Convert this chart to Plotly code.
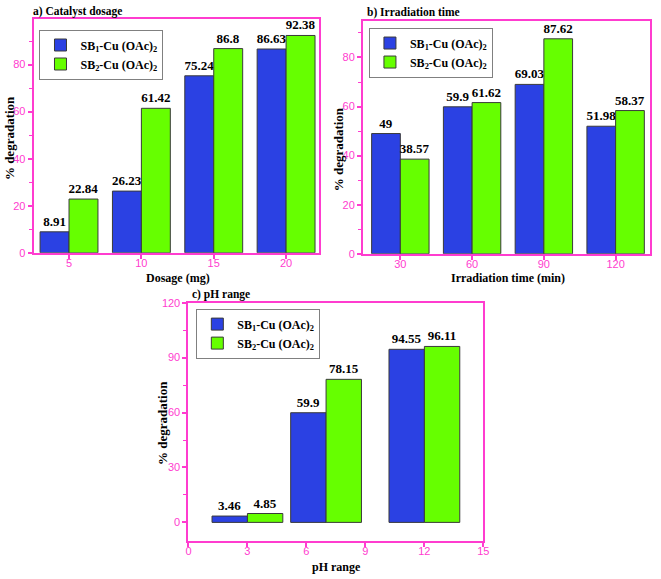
import plotly.graph_objects as go

# ---- data ----
dosage = [5, 10, 15, 20]
dosage_sb1 = [8.91, 26.23, 75.24, 86.63]
dosage_sb2 = [22.84, 61.42, 86.8, 92.38]

irr_time = [30, 60, 90, 120]
irr_sb1 = [49, 59.9, 69.03, 51.98]
irr_sb2 = [38.57, 61.62, 87.62, 58.37]

ph = [3, 7, 12]
ph_sb1 = [3.46, 59.9, 94.55]
ph_sb2 = [4.85, 78.15, 96.11]

name1 = "SB<sub>1</sub>-Cu (OAc)<sub>2</sub>"
name2 = "SB<sub>2</sub>-Cu (OAc)<sub>2</sub>"

BLUE = "#2b41e3"
GREEN = "#66ff00"
PINK = "#ff3ccf"
W, H = 661, 579
SERIF = "Liberation Serif"
SANS = "Liberation Sans"

fig = go.Figure()

def add_pair(x, y1, y2, xa, ya, leg):
    for y, name, col in [(y1, name1, BLUE), (y2, name2, GREEN)]:
        fig.add_trace(go.Bar(
            x=x, y=y, name=name, xaxis=xa, yaxis=ya, legend=leg,
            marker=dict(color=col, line=dict(color="#3a3a3a", width=1)),
            text=[f"{v:g}" for v in y], textposition="outside",
            textfont=dict(family=SERIF, size=13, color="black", weight="bold"),
            constraintext="none", cliponaxis=False,
        ))

add_pair(dosage, dosage_sb1, dosage_sb2, "x", "y", "legend")
add_pair(irr_time, irr_sb1, irr_sb2, "x2", "y2", "legend2")
add_pair(ph, ph_sb1, ph_sb2, "x3", "y3", "legend3")

def px_dom(a, b, total):
    return [a / total, b / total]

def ydom(top, bottom):
    return [1 - bottom / H, 1 - top / H]

axis_common = dict(
    showline=True, mirror=True, linecolor=PINK, linewidth=2,
    ticks="outside", tickcolor=PINK, tickwidth=1.5, ticklen=4,
    tickfont=dict(family=SANS, size=11, color=PINK),
    showgrid=False, zeroline=False,
)
xcommon = dict(axis_common, ticklabelstandoff=-5)

minor_y = dict(ticks="outside", ticklen=3, tickcolor=PINK, tickwidth=1.2)

fig.update_layout(
    width=W, height=H, margin=dict(l=0, r=0, t=0, b=0),
    paper_bgcolor="white", plot_bgcolor="white",
    barmode="group",
    bargap=0.2, bargroupgap=0,
    xaxis=dict(domain=px_dom(31, 320, W), anchor="y", range=[2.55, 22.25],
               tickvals=dosage, **xcommon),
    yaxis=dict(domain=ydom(13, 252), anchor="x", range=[0, 99.5],
               tickvals=[0, 20, 40, 60, 80],
               minor=dict(tickvals=[10, 30, 50, 70, 90], **minor_y), **axis_common),
    xaxis2=dict(domain=px_dom(365, 656, W), anchor="y2", range=[14.4, 134.4],
                tickvals=irr_time, **xcommon),
    yaxis2=dict(domain=ydom(15, 253), anchor="x2", range=[0, 95],
                tickvals=[0, 20, 40, 60, 80],
                minor=dict(tickvals=[10, 30, 50, 70, 90], **minor_y), **axis_common),
    xaxis3=dict(domain=px_dom(188, 487, W), anchor="y3", range=[0, 15],
                tickvals=[0, 3, 6, 9, 12, 15], **xcommon),
    yaxis3=dict(domain=ydom(303, 546), anchor="x3", range=[-10, 120],
                tickvals=[0, 30, 60, 90, 120],
                minor=dict(tickvals=[15, 45, 75, 105], **minor_y), **axis_common),
)

# panel c: bars 1.8 units wide, groups centred on the pH value
fig.update_traces(selector=dict(xaxis="x3"), width=1.8)
fig.data[4].update(offset=-1.8)
fig.data[5].update(offset=0)

leg_common = dict(
    bordercolor="#808080", borderwidth=1, bgcolor="white",
    font=dict(family=SERIF, size=12, color="black", weight="bold"),
    xanchor="left", yanchor="top", itemwidth=30, tracegroupgap=0,
    traceorder="normal",
)
fig.update_layout(
    legend=dict(x=37 / W, y=1 - 24 / H, **leg_common),
    legend2=dict(x=371 / W, y=1 - 22 / H, **leg_common),
    legend3=dict(x=196 / W, y=1 - 309 / H, **leg_common),
)

def ann(text, x, y, size=11, angle=0, xanchor="center"):
    fig.add_annotation(
        text=text, x=x / W, y=1 - y / H, xref="paper", yref="paper",
        showarrow=False, textangle=angle, xanchor=xanchor, yanchor="middle",
        font=dict(family=SERIF, size=size, color="black", weight="bold"),
    )

ann("a) Catalyst dosage", 28, 6, size=11.5, xanchor="left")
ann("b) Irradiation time", 367, 7, size=11.5, xanchor="left")
ann("c) pH range", 190, 295, size=11.5, xanchor="left")

ann("% degradation", 6, 135, size=13, angle=-90)
ann("Dosage (mg)", 177, 278, size=12)
ann("% degradation", 341, 146, size=13, angle=-90)
ann("Irradiation time (min)", 512, 278, size=12)
ann("% degradation", 161, 426, size=13, angle=-90)
ann("pH range", 338, 573, size=12)

fig.write_html("out.html")
